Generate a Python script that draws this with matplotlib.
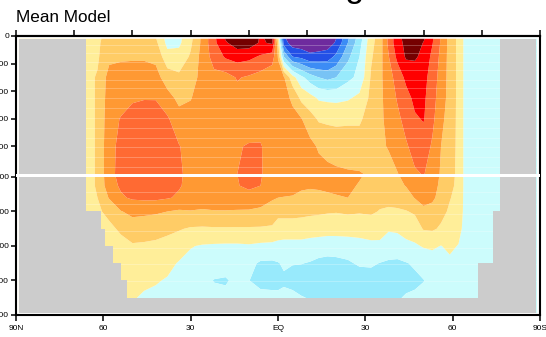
import numpy as np
import matplotlib
matplotlib.use("Agg")
import matplotlib.pyplot as plt

# ---------------- data ----------------
# latitude columns (deg, N positive) and depth rows (m)
lats = [89, 66, 62, 58, 54, 50, 46, 42, 38, 34, 30, 26, 22, 18, 14, 10, 6, 2, 0,
        -2, -5, -8, -11, -14, -17, -20, -24, -28, -32, -35, -38, -41, -44, -47,
        -50, -53, -56, -59, -62, -65, -70, -76, -89]
depths = [20, 50, 150, 300, 450, 600, 800, 1000, 1250, 1600, 2000, 2500, 3000,
          3500, 4000, 4500, 4940]

# overturning stream function (Sv), one profile per latitude column
psi_columns = [
    [2, 2, 2, 2.5, 2.5, 2.5, 2.5, 2.5, 2.5, 2.5, 2, 2, 2, 2, 2, 2, 2],              # 89
    [2, 2, 2.5, 3, 3, 3, 3, 3, 3, 3, 2.5, 2, 2, 2, 2, 2, 2],                        # 66
    [3.5, 3.5, 3.5, 4.3, 4.3, 4.3, 4.3, 4.3, 4.3, 4.0, 3.5, 2.5, 2.5, 2.5, 2.5, 2.5, 2.5],  # 62
    [5, 5.5, 7, 9.5, 10, 10.5, 11, 11, 10.5, 8.3, 4.8, 3.3, 2.5, 2, 2, 2, 2],       # 58
    [5, 5.5, 7.5, 9.5, 10.5, 12.2, 12.8, 13, 12.5, 11.5, 7.8, 4.5, 3, 2.5, 2, 1, 1],  # 54
    [5, 5.5, 7.5, 10, 11.5, 13.5, 14.5, 15, 14.5, 12.5, 9, 6, 3.6, 2.8, 2, 0.5, 0.5],  # 50
    [5.5, 6, 7.5, 10, 11.8, 14, 15, 15.3, 14.8, 12.8, 8.7, 6, 3.4, 2.3, 1.2, -0.8, -0.8],  # 46
    [4.3, 5, 7, 9.5, 11.8, 13.8, 14.8, 15, 14.5, 12.8, 8.5, 5.5, 3.2, 2, 0.3, -0.8, -0.8],  # 42
    [-1.5, -1.2, 1.5, 6, 9.5, 12.5, 13.8, 14, 13.8, 12.3, 8, 5, 2.5, 1, -0.3, -1.2, -1.2],  # 38
    [-1, -0.8, 1.5, 4.8, 7, 9.5, 12.2, 12.5, 12.3, 11.5, 7.5, 4.3, 1.8, -0.3, -1.2, -2, -2],  # 34
    [3, 3.3, 4.5, 6, 7.8, 9.5, 10.5, 11, 11, 10.5, 7.8, 3.6, 0.2, -1, -1.5, -2.2, -2.2],  # 30
    [9, 9, 9.5, 9.5, 10, 10.3, 10.5, 10.8, 10.8, 10.3, 7.5, 3.5, -0.3, -1.3, -2, -2.5, -2.5],  # 26
    [15, 15, 13.5, 11, 10.3, 10.2, 10.5, 10.5, 10.5, 10, 7.8, 3.6, -0.5, -1.5, -4.2, -2.5, -2.5],  # 22
    [20.3, 19.5, 16.5, 10.5, 10.5, 10.3, 10.7, 10.8, 10.7, 10.1, 7.8, 3.6, -0.6, -1.5, -4.6, -2.5, -2.5],  # 18
    [23, 22, 17.5, 12.3, 10.8, 10.6, 11.8, 12, 11.8, 10.2, 7.7, 3.6, -0.6, -1.5, -2.5, -2.5, -2.5],  # 14
    [23, 22, 17, 11.5, 10.5, 10.6, 12.2, 13, 12.8, 10.5, 7.6, 3.6, -0.4, -3, -3.9, -2.5, -2.5],  # 10
    [19.5, 19.5, 15.5, 10.5, 10, 10.2, 12.3, 12.3, 12, 10.3, 7, 3.6, -0.8, -4.5, -5.5, -2.5, -2.5],  # 6
    [21, 20.5, 14, 9, 9, 9.5, 10, 10.5, 10.3, 8.5, 6, 3.5, -1, -4.6, -5.5, -2.8, -2.8],  # 2
    [3, 5, 7.8, 9.2, 9.5, 9.7, 10, 10.2, 10.2, 8, 5, 2.5, -1.2, -4.2, -5.3, -3, -3],  # 0
    [-19, -18, -8, 8.5, 9, 9.3, 10, 10.3, 10.3, 7.8, 5, 2.5, -1.5, -3.5, -4.6, -3, -3],  # -2
    [-23, -22, -16, 1.5, 7.5, 8.8, 10, 10.3, 10.3, 7.5, 5, 2.5, -1.5, -3.8, -5.5, -2.8, -2.8],  # -5
    [-23, -22.5, -17, -3, 3, 8.2, 9.8, 10.2, 8.5, 7.3, 4.8, 2.5, -1.5, -3.9, -5.5, -3.8, -3.8],  # -8
    [-23, -22.5, -19, -6, 1.5, 5.5, 9.2, 10, 8.3, 7.2, 4.6, 2.3, -2, -4.2, -5.5, -4.2, -4.2],  # -11
    [-23, -22.5, -18.5, -8, -0.5, 3.5, 7.5, 9.5, 8.4, 7.3, 4.5, 2, -2.2, -4.8, -6, -4.5, -4.5],  # -14
    [-23, -22, -18, -9, -0.8, 3.3, 6.5, 9.2, 8.6, 7.5, 4.3, 1.8, -2.5, -5, -6.5, -5, -5],  # -17
    [-20, -19.5, -15, -8, -1, 3.2, 6, 8.8, 8.6, 7.8, 4.2, 1.6, -2.2, -5, -6.5, -5, -5],  # -20
    [-12.5, -12, -9, -5, -0.5, 3.5, 5.5, 8.5, 8.5, 8, 4.5, 1.7, -2, -4.5, -6.5, -5.5, -5.5],  # -24
    [-6, -5.5, -4, -3, 1, 3.5, 5.5, 8.3, 7.8, 6.5, 4.3, 1.7, -1.5, -3.5, -6, -4.5, -4.5],  # -28
    [2.5, 2.8, 3.5, 4.5, 5, 5.5, 6.5, 7.5, 7, 5.8, 4.5, 2, -1, -3.5, -5.5, -4.3, -4.3],  # -32
    [6, 6, 6.5, 7, 7.2, 7.3, 7.5, 7.5, 7, 5, 3.8, 1.5, -0.8, -4.1, -5.5, -4.2, -4.2],  # -35
    [13, 13, 11.8, 10.5, 9.5, 9, 8.2, 7, 6.5, 5, 3.5, 0.3, -1.5, -4.6, -5.5, -4.2, -4.2],  # -38
    [18.5, 18.5, 17, 13.5, 12.4, 11, 10, 7.8, 7, 5.5, 3.5, 0.5, -1.5, -4.8, -6, -4.5, -4.5],  # -41
    [21.5, 21, 20.5, 17, 14.5, 13.5, 11.5, 9.5, 8.2, 6.2, 3.8, 1.2, -0.8, -4.2, -5.5, -3.5, -3.5],  # -44
    [22, 22, 20.5, 18, 17, 15.5, 13.5, 11.5, 9.5, 8.2, 4.5, 2, -0.5, -3.5, -4.8, -3.3, -3.3],  # -47
    [20.5, 19.8, 19, 17.5, 16.8, 16.3, 14, 12.2, 11, 9.5, 7, 4.3, 0.3, -2.5, -4.1, -3, -3],  # -50
    [16.5, 16.3, 15, 14, 13.5, 13, 11.5, 10.5, 9.8, 8.8, 6.5, 4.5, 0.5, -1.5, -3, -2.5, -2.5],  # -53
    [11.5, 11.5, 11, 10.5, 10, 9, 8, 7.5, 7, 6.5, 5, 3.5, -0.1, -1.5, -2, -2.5, -2.5],  # -56
    [6.5, 6.5, 6.5, 6.5, 6.5, 6.3, 6, 5.5, 5, 4.2, 3.5, 2, 0.8, -0.8, -1.5, -2, -2],  # -59
    [3, 3, 3, 3, 3, 3, 3, 3, 3, 2.8, 2.5, 1.5, -0.2, -1, -1.5, -2, -2],  # -62
    [-2.5] * 17,  # -65
    [-2] * 17,    # -70
    [-2] * 17,    # -76
    [-2] * 17,    # -89
]

# contour levels (Sv) and fill colours
levels = [-20, -16, -12, -8, -4, 0, 4, 8, 12, 16, 20]
fill_colors = ["#6E2B9E", "#2350E6", "#3C8CF5", "#78C3F5", "#98EAFC", "#CCFCFC",
               "#FFEE99", "#FFCC66", "#FF9933", "#FF6A33", "#FF0000", "#750000"]

# ocean floor (m) between successive latitude edges (0 = land column)
floor_lat_edges = [89, 66, 60.8, 59.4, 56.6, 53.9, 51.9, -68.7, -73.9, -76.3, -88.6]
floor_depths = [0, 2000, 2500, 3000, 3500, 4000, 4500, 3500, 2000, 0]

# model level interfaces that show as faint light lines in the fill
level_lines = [65, 125, 190, 250, 320, 380, 450, 520, 595, 665, 740, 805, 875, 950,
               1430, 1780, 2070, 2560, 3060, 3520, 4010]

xtick_lats = [90, 60, 30, 0, -30, -60, -90]
xtick_labels = ["90N", "60", "30", "EQ", "30", "60", "90S"]
top_tick_lats = [90, 70, 50, 30, 10, -10, -30, -50, -70, -90]
ytick_depths = [0, 200, 400, 600, 800, 1000, 2000, 3000, 4000, 5000]
ytick_labels = ["0", "200", "400", "600", "800", "1000", "2000", "3000", "4000", "5000"]

# ---------------- plotting ----------------
GAP = 3.0 / 138.0  # white separation between the 0-1000 m and 1000-5000 m panels


def ty(d):
    d = np.asarray(d, dtype=float)
    return np.where(d <= 1000, d / 1000.0, 1.0 + GAP + (d - 1000.0) / 4000.0)


plt.rcParams["font.family"] = ["Liberation Sans", "DejaVu Sans"]

fig = plt.figure(figsize=(5.46, 3.37), dpi=100)
ax = fig.add_axes([16 / 546, 1 - 315 / 337, 524 / 546, 279 / 337])

X = np.array(lats, dtype=float)
Y = ty(depths)
Z = np.array(psi_columns, dtype=float).T

bounds = [-1000] + levels + [1000]
ax.contourf(X, Y, Z, levels=bounds, colors=fill_colors, zorder=1, antialiased=True)

# faint level lines inside the ocean (covered by land where needed)
for d in level_lines:
    ax.plot([lats[0], lats[-1]], [float(ty(d))] * 2, color="white", lw=0.7,
            alpha=0.25, zorder=1.5, solid_capstyle="butt")

# land / sea floor
xs, ys = [], []
for i, d in enumerate(floor_depths):
    top = float(ty(max(d, depths[0])))
    xs += [floor_lat_edges[i], floor_lat_edges[i + 1]]
    ys += [top, top]
bottom = float(ty(depths[-1]))
xs += [floor_lat_edges[-1], floor_lat_edges[0]]
ys += [bottom, bottom]
ax.fill(xs, ys, color="#CCCCCC", lw=0, zorder=2)

# panel separation
ax.axhspan(1.0, 1.0 + GAP, color="white", lw=0, zorder=3)

ax.set_xlim(90, -90)
ax.set_ylim(2 + GAP, 0)

ax.set_xticks(xtick_lats)
ax.set_xticklabels(xtick_labels, fontsize=6)
yt = [float(ty(d)) if d != 1000 else 1.0 + GAP for d in ytick_depths]
ax.set_yticks(yt)
ax.set_yticklabels(ytick_labels, fontsize=6)
ax.tick_params(axis="x", direction="out", length=4, width=1.1, pad=3)
ax.tick_params(axis="y", direction="out", length=3.5, width=1.1, pad=1.5)

sec = ax.secondary_xaxis("top")
sec.set_xticks(top_tick_lats)
sec.set_xticklabels([])
sec.tick_params(direction="out", length=4, width=1.1)
sec.spines["top"].set_linewidth(1.5)

for s in ax.spines.values():
    s.set_linewidth(1.5)

fig.text(15.7 / 546, 1 - 21.7 / 337, "Mean Model", fontsize=12.3,
         ha="left", va="baseline")
fig.text(278 / 546, 1 + 2.5 / 337, "Meridional Overturning Circulation",
         fontsize=24.3, ha="center", va="baseline")

fig.savefig("out.png", dpi=100)
